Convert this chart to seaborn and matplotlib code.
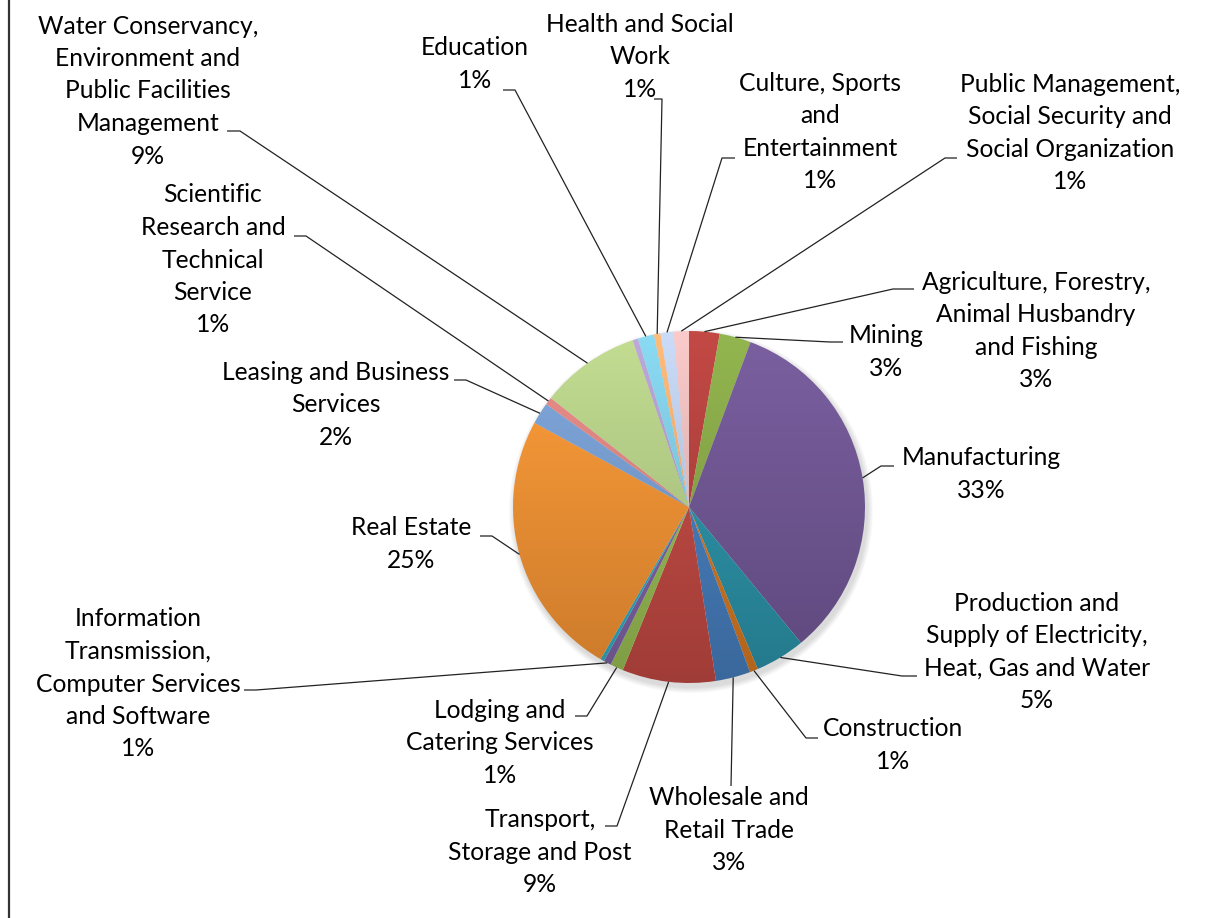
import matplotlib
matplotlib.use('Agg')
import matplotlib.pyplot as plt
import matplotlib.colors as mcolors
from matplotlib.patches import Circle
import numpy as np
import seaborn as sns

# slices clockwise from 12 o'clock, "" = slice without a label
sectors = ["Agriculture, Forestry,\nAnimal Husbandry\nand Fishing", "Mining", "Manufacturing",
           "Production and\nSupply of Electricity,\nHeat, Gas and Water", "Construction",
           "Wholesale and\nRetail Trade", "Transport,\nStorage and Post", "Lodging and\nCatering Services",
           "Information\nTransmission,\nComputer Services\nand Software", "", "Real Estate",
           "Leasing and Business\nServices", "Scientific\nResearch and\nTechnical\nService",
           "Water Conservancy,\nEnvironment and\nPublic Facilities\nManagement", "", "Education",
           "Health and Social\nWork", "Culture, Sports\nand\nEntertainment",
           "Public Management,\nSocial Security and\nSocial Organization"]
shares = [2.8, 2.9, 33.4, 4.6, 0.75, 3.2, 8.6, 1.2, 0.7, 0.35, 24.6, 2.0, 0.7, 9.2, 0.5, 1.5, 0.6, 1.2, 1.4]
slice_colors = ["#B03F3B", "#84A445", "#6D5490", "#2A8DA2", "#CE7420", "#4479B6", "#BA4640", "#93B54F",
                "#7A5F9E", "#31A5BC", "#EC8E32", "#7499CB", "#D8817D", "#B0C983", "#AB99C6", "#7CC6DE",
                "#F8AA6E", "#B7C7E2", "#E4B7B7"]

W, H = 1232, 918
cx, cy, R = 689, 507, 176

# label layout in pixels: text centre, then the leader line start and elbow
label_pos = [(1036, 331), (886, 352), (981, 474), (1037, 652), (893, 745), (729, 830), (540, 852),
             (500, 743), (138, 684), None, (411, 544), (336, 405), (213, 260), (148, 91), None,
             (475, 64), (640, 57), (820, 132), (1070, 133)]
leader_elbow = [((914, 289), (893, 289)), ((843, 342), (830, 342)), ((894, 466), (881, 466)),
                ((917, 676), (902, 676)), ((818, 738), (806, 738)), ((731, 786), (731, 786)),
                ((605, 826), (617, 826)), ((575, 716), (587, 716)), ((244, 690), (256, 690)), None,
                ((480, 536), (492, 536)), ((454, 380), (466, 380)), ((294, 236), (306, 236)),
                ((227, 131), (240, 131)), None, ((503, 90), (515, 90)), ((654, 99), (662, 99)),
                ((735, 158), (722, 158)), ((957, 158), (945, 158))]

sns.set_style("white")
plt.rcParams['font.family'] = ['Lato', 'DejaVu Sans']

fig = plt.figure(figsize=(W / 100, H / 100), dpi=100)
ax = fig.add_axes([0, 0, 1, 1])

# soft shadow under the pie
for k in range(6):
    ax.add_patch(Circle((cx + 2, cy + 4), R + 1 + k, color='black', alpha=0.025, lw=0, zorder=0))

palette = sns.color_palette(slice_colors)
# y axis is inverted (pixel rows), so start at -90 and go counterclockwise in data = clockwise on screen
wedges, _ = ax.pie(shares, colors=palette, startangle=-90, counterclock=True,
                   center=(cx, cy), radius=R, wedgeprops=dict(linewidth=0))

# vertical gradient on every slice, lighter at the top
for w, c in zip(wedges, palette):
    rgb = np.array(mcolors.to_rgb(c))
    top = np.clip(rgb * 1.08 + 0.02, 0, 1)
    bot = rgb * 0.86
    t = np.linspace(0, 1, 200)[:, None]
    grad = (top[None, :] * (1 - t) + bot[None, :] * t)[:, None, :]
    im = ax.imshow(grad, extent=(cx - R, cx + R, cy + R, cy - R), origin='upper',
                   aspect='auto', interpolation='bilinear', zorder=1)
    im.set_clip_path(w)
    w.set_facecolor('none')

total = sum(shares)
for w, name, v, pos, lead in zip(wedges, sectors, shares, label_pos, leader_elbow):
    if not name:
        continue
    ax.text(pos[0], pos[1], f"{name}\n{v / total * 100:.0f}%", ha='center', va='center',
            multialignment='center', fontsize=17.7, linespacing=1.5, color='black', zorder=5)
    mid = np.deg2rad((w.theta1 + w.theta2) / 2)
    px, py = cx + R * np.cos(mid), cy + R * np.sin(mid)
    ax.plot([lead[0][0], lead[1][0], px], [lead[0][1], lead[1][1], py],
            color='#222222', lw=0.9, zorder=4, solid_capstyle='butt')

ax.axvline(9, color='#333333', lw=1.6)
ax.set_xlim(0, W)
ax.set_ylim(H, 0)
ax.set_aspect('auto')
ax.axis('off')

plt.savefig('out.png', dpi=100)
